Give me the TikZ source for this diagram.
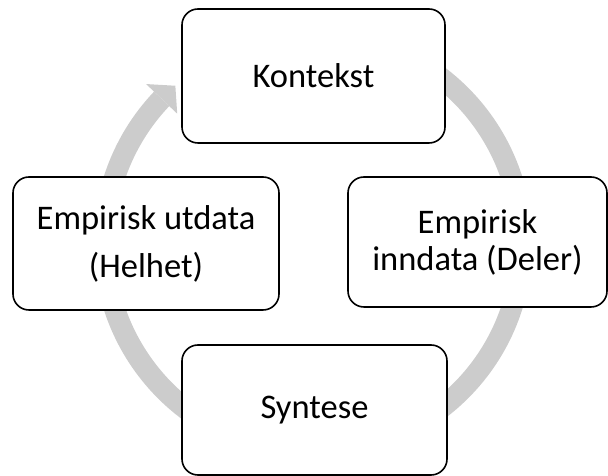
\documentclass[tikz,border=0pt]{standalone}
\usepackage{fontspec}
\setmainfont{Carlito}
\usetikzlibrary{calc}
\definecolor{cyclegray}{HTML}{CCCCCC}
\begin{document}
\begin{tikzpicture}[x=1pt,y=1pt,
  stagebox/.style={draw=black, line width=1.6pt, fill=white, rounded corners=16pt,
    inner sep=0pt, align=center, font=\fontsize{34.5}{40}\selectfont},
  cycleband/.style={draw=cyclegray, line width=21pt}]
\useasboundingbox (0,0) rectangle (608,476);
% cycle
\coordinate (c) at (313,233);
\draw[cycleband] ($(c)+(85:209)$) arc[start angle=85, end angle=-223.6, radius=209];
\coordinate (hb1) at ($(c)+(136.4:230.5)$);
\coordinate (hb2) at ($(c)+(136.4:187.5)$);
\coordinate (ht) at ($(c)+(131.2:209)$);
\fill[cyclegray] (hb1) -- (ht) -- (hb2) -- cycle;
% stages
\node[stagebox, minimum width=263pt, minimum height=134pt] (kontekst) at (313.5,400) {Kontekst};
\node[stagebox, minimum width=259pt, minimum height=130pt,
  font=\fontsize{34.5}{37}\selectfont] (inn) at (477.5,234) {Empirisk\\inndata (Deler)};
\node[stagebox, minimum width=265pt, minimum height=130pt] (syntese) at (314.5,66) {Syntese};
\node[stagebox, minimum width=266pt, minimum height=133pt,
  font=\fontsize{34.5}{48}\selectfont] (ut) at (146,232.5) {Empirisk utdata\\(Helhet)};
\end{tikzpicture}
\end{document}
